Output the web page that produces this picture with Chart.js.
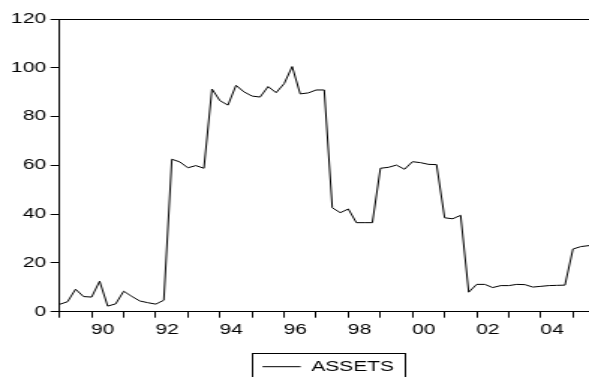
<!DOCTYPE html>
<html>
<head>
<meta charset="utf-8">
<script src="https://cdn.jsdelivr.net/npm/chart.js@4"></script>
<style>
  html, body { margin:0; padding:0; background:#fff; overflow:hidden; }
  /* the reference is stretched sideways, so the canvas is too */
  #c { display:block; transform:scaleX(1.4987); transform-origin:0 0; }
</style>
</head>
<body>
<canvas id="c" width="393" height="377"></canvas>
<script>
// quarterly series, 1989Q1 .. 2005Q3
const startYear = 1989;
const seriesName = 'ASSETS';
const assets = [
  3.0, 4.1, 9.2, 6.2, 6.0, 12.5, 2.3, 3.2, 8.4, 6.3, 4.4, 3.7, 3.1, 4.7,
  62.5, 61.4, 59.0, 59.9, 58.8, 91.3, 86.5, 84.7, 92.8, 90.1, 88.4, 88.0,
  92.3, 89.8, 93.5, 100.5, 89.3, 89.7, 90.9, 90.9,
  42.6, 40.6, 42.1, 36.5, 36.5, 36.5, 58.8, 59.2, 60.1, 58.4, 61.5, 61.1,
  60.4, 60.3, 38.5, 38.1, 39.5,
  8.0, 11.2, 11.2, 9.9, 10.7, 10.7, 11.2, 11.1, 10.1, 10.4, 10.7, 10.8,
  10.9, 25.7, 26.7, 27.1
];
const yMin = 0, yMax = 120, yStep = 20;

const periods = [];
for (let i = 0; i < assets.length; i++) {
  periods.push((startYear + Math.floor(i / 4)) + 'Q' + (i % 4 + 1));
}

const FONT = { family:'"Liberation Sans", Arial, sans-serif', size:14 };
const LEGEND_CX = 219;   // unstretched px
const LEGEND_DY = 6.7;

const legendFrame = {
  id:'legendFrame',
  afterLayout(chart){
    const lg = chart.legend;
    const dx = LEGEND_CX - (lg.left + lg.right)/2;
    lg.left += dx; lg.right += dx;
    lg.top += LEGEND_DY; lg.bottom += LEGEND_DY;
  },
  afterDraw(chart){
    const lg = chart.legend;
    const cx = (lg.left + lg.right)/2;
    const cy = lg.top + 3 + 7;       // padding + half item height
    const ctx = chart.ctx;
    ctx.save();
    ctx.strokeStyle = '#000'; ctx.lineWidth = 1;
    ctx.strokeRect(Math.round(cx - 51) + 0.5, Math.round(cy - 13.4) + 0.5, 102, 60);
    ctx.restore();
  }
};

new Chart(document.getElementById('c').getContext('2d'), {
  type:'line',
  data:{
    labels: periods,
    datasets:[{
      label: seriesName,
      data: assets,
      borderColor:'#000',
      borderWidth:1,
      tension:0,
      pointRadius:0,
      pointStyle:'line',
      pointBorderColor:'#000',
      pointBorderWidth:1
    }]
  },
  options:{
    responsive:false,
    animation:false,
    events:[],
    layout:{ padding:{ top:19, left:0, right:0, bottom:0 } },
    plugins:{
      tooltip:{ enabled:false },
      legend:{
        position:'bottom',
        labels:{ usePointStyle:true, pointStyleWidth:25.5, boxHeight:14, padding:3,
                 color:'#000', font:{ ...FONT, lineHeight:1 } }
      }
    },
    scales:{
      x:{
        offset:false,
        grid:{ drawOnChartArea:false, drawTicks:true, tickLength:6, color:'#000' },
        border:{ display:true, color:'#000', width:1 },
        ticks:{
          autoSkip:false, maxRotation:0, minRotation:0, padding:4, labelOffset:7.5,
          color:'#000', font:FONT,
          callback(v, i){
            const p = periods[i];
            if (!p.endsWith('Q1')) return null;
            const yr = Number(p.slice(0,4));
            return yr % 2 === 0 ? String(yr).slice(2) : '';
          }
        },
        afterFit(s){ s.height = 38.3; }
      },
      frame:{
        type:'linear', position:'top', min:0, max:1,
        grid:{ display:false }, ticks:{ display:false },
        border:{ display:true, color:'#000', width:1 },
        afterFit(s){ s.height = 0; }
      },
      y:{
        min:yMin, max:yMax,
        grid:{ drawOnChartArea:false, drawTicks:true, tickLength:6, color:'#000' },
        border:{ display:true, color:'#000', width:1 },
        ticks:{ stepSize:yStep, padding:3, color:'#000', font:FONT },
        afterFit(s){ s.width = 39.7; }
      }
    }
  },
  plugins:[legendFrame]
});
</script>
</body>
</html>
